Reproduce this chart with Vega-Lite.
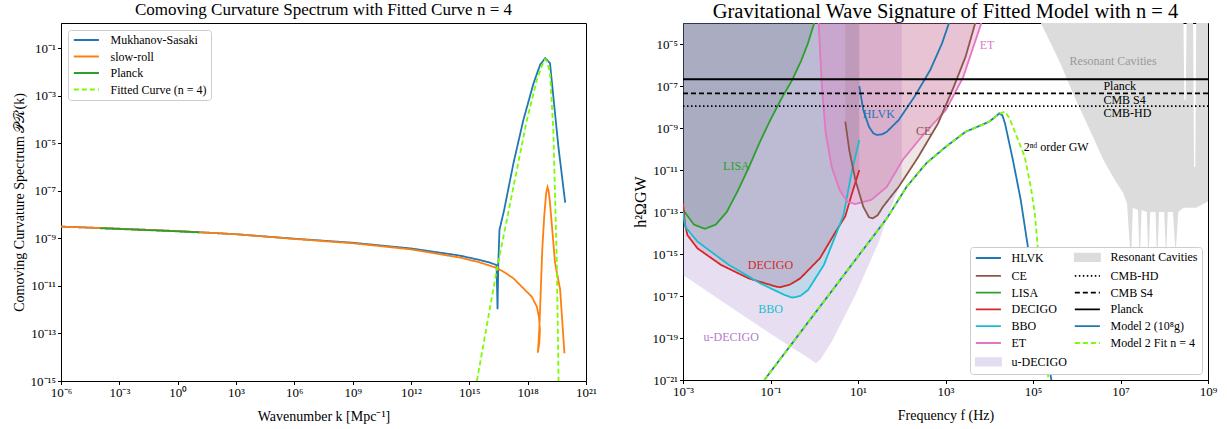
{
"$schema": "https://vega.github.io/schema/vega-lite/v6.json",
"padding": {"left": 11, "right": 10, "top": 0, "bottom": 2},
"spacing": 34,
"config": {
 "font": "Liberation Serif",
 "view": {"stroke": "#000000", "strokeWidth": 1},
 "axis": {"domainColor": "#000000", "tickColor": "#000000", "labelColor": "#000000", "titleColor": "#000000", "grid": false, "labelFont": "Liberation Serif", "titleFont": "Liberation Serif", "labelFontSize": 13, "titleFontSize": 14, "titleFontWeight": "normal", "tickSize": 3.5, "labelPadding": 2, "labelFlush": false},
 "axisX": {"titlePadding": 10},
 "title": {"font": "Liberation Serif", "fontWeight": "normal", "color": "#000000", "frame": "group", "anchor": "middle"},
 "legend": {"labelFont": "Liberation Serif", "labelFontSize": 12, "labelColor": "#000000"}
},
"datasets": {
 "left": [
  {"s":"Mukhanov-Sasaki","k":1e-6,"P":3.16e-9,"i":0},
  {"s":"Mukhanov-Sasaki","k":1e-3,"P":2.57e-9,"i":1},
  {"s":"Mukhanov-Sasaki","k":1,"P":2.04e-9,"i":2},
  {"s":"Mukhanov-Sasaki","k":1e3,"P":1.51e-9,"i":3},
  {"s":"Mukhanov-Sasaki","k":1e6,"P":9.77e-10,"i":4},
  {"s":"Mukhanov-Sasaki","k":1e9,"P":6.61e-10,"i":5},
  {"s":"Mukhanov-Sasaki","k":1e12,"P":3.8e-10,"i":6},
  {"s":"Mukhanov-Sasaki","k":3.16e14,"P":1.91e-10,"i":7},
  {"s":"Mukhanov-Sasaki","k":3.16e15,"P":1.26e-10,"i":8},
  {"s":"Mukhanov-Sasaki","k":1e16,"P":1e-10,"i":9},
  {"s":"Mukhanov-Sasaki","k":2.51e16,"P":7.59e-11,"i":10},
  {"s":"Mukhanov-Sasaki","k":2.82e16,"P":1.05e-12,"i":11},
  {"s":"Mukhanov-Sasaki","k":3.09e16,"P":9.12e-11,"i":12},
  {"s":"Mukhanov-Sasaki","k":3.55e16,"P":2.29e-9,"i":13},
  {"s":"Mukhanov-Sasaki","k":4.68e16,"P":6.03e-9,"i":14},
  {"s":"Mukhanov-Sasaki","k":6.17e16,"P":1.58e-8,"i":15},
  {"s":"Mukhanov-Sasaki","k":1.86e17,"P":1.48e-6,"i":16},
  {"s":"Mukhanov-Sasaki","k":6.03e17,"P":9.77e-5,"i":17},
  {"s":"Mukhanov-Sasaki","k":2e18,"P":3.39e-3,"i":18},
  {"s":"Mukhanov-Sasaki","k":4.37e18,"P":2.04e-2,"i":19},
  {"s":"Mukhanov-Sasaki","k":7.94e18,"P":3.89e-2,"i":20},
  {"s":"Mukhanov-Sasaki","k":1.41e19,"P":2.4e-2,"i":21},
  {"s":"Mukhanov-Sasaki","k":2.09e19,"P":9.33e-4,"i":22},
  {"s":"Mukhanov-Sasaki","k":3.8e19,"P":7.41e-6,"i":23},
  {"s":"Mukhanov-Sasaki","k":8.51e19,"P":3.24e-8,"i":24},
  {"s":"slow-roll","k":1e-6,"P":3.16e-9,"i":0},
  {"s":"slow-roll","k":1e-3,"P":2.57e-9,"i":1},
  {"s":"slow-roll","k":1,"P":2.04e-9,"i":2},
  {"s":"slow-roll","k":1e3,"P":1.51e-9,"i":3},
  {"s":"slow-roll","k":1e6,"P":9.55e-10,"i":4},
  {"s":"slow-roll","k":1e9,"P":6.31e-10,"i":5},
  {"s":"slow-roll","k":1e12,"P":3.47e-10,"i":6},
  {"s":"slow-roll","k":3.16e14,"P":1.58e-10,"i":7},
  {"s":"slow-roll","k":3.16e15,"P":1e-10,"i":8},
  {"s":"slow-roll","k":1e16,"P":7.41e-11,"i":9},
  {"s":"slow-roll","k":2.51e16,"P":5.75e-11,"i":10},
  {"s":"slow-roll","k":6.31e16,"P":3.8e-11,"i":11},
  {"s":"slow-roll","k":1.86e17,"P":2.09e-11,"i":12},
  {"s":"slow-roll","k":6.03e17,"P":7.94e-12,"i":13},
  {"s":"slow-roll","k":1.62e18,"P":3.55e-12,"i":14},
  {"s":"slow-roll","k":2.95e18,"P":1.35e-12,"i":15},
  {"s":"slow-roll","k":3.8e18,"P":5.01e-13,"i":16},
  {"s":"slow-roll","k":4.27e18,"P":1.41e-13,"i":17},
  {"s":"slow-roll","k":3.98e18,"P":3.98e-14,"i":18},
  {"s":"slow-roll","k":3.31e18,"P":1.55e-14,"i":19},
  {"s":"slow-roll","k":3.55e18,"P":3.16e-14,"i":20},
  {"s":"slow-roll","k":3.98e18,"P":1.58e-13,"i":21},
  {"s":"slow-roll","k":4.57e18,"P":3.16e-12,"i":22},
  {"s":"slow-roll","k":5.62e18,"P":3.16e-10,"i":23},
  {"s":"slow-roll","k":7.08e18,"P":8.32e-9,"i":24},
  {"s":"slow-roll","k":8.91e18,"P":7.94e-8,"i":25},
  {"s":"slow-roll","k":1.05e19,"P":1.45e-7,"i":26},
  {"s":"slow-roll","k":1.2e19,"P":1e-7,"i":27},
  {"s":"slow-roll","k":1.41e19,"P":3.02e-8,"i":28},
  {"s":"slow-roll","k":2.57e19,"P":9.12e-11,"i":29},
  {"s":"slow-roll","k":4.68e19,"P":7.08e-12,"i":30},
  {"s":"slow-roll","k":7.76e19,"P":1.48e-14,"i":31},
  {"s":"Planck","k":1e-4,"P":2.69e-9,"i":0},
  {"s":"Planck","k":3.16e-2,"P":2.24e-9,"i":1},
  {"s":"Planck","k":12.6,"P":1.82e-9,"i":2},
  {"s":"Fitted Curve (n = 4)","k":2.45e15,"P":1e-15,"i":0},
  {"s":"Fitted Curve (n = 4)","k":2.57e16,"P":4.68e-11,"i":1},
  {"s":"Fitted Curve (n = 4)","k":1.86e17,"P":1.51e-7,"i":2},
  {"s":"Fitted Curve (n = 4)","k":9.12e17,"P":9.77e-5,"i":3},
  {"s":"Fitted Curve (n = 4)","k":2.95e18,"P":4.68e-3,"i":4},
  {"s":"Fitted Curve (n = 4)","k":5.62e18,"P":2e-2,"i":5},
  {"s":"Fitted Curve (n = 4)","k":7.94e18,"P":3.47e-2,"i":6},
  {"s":"Fitted Curve (n = 4)","k":1e19,"P":2.82e-2,"i":7},
  {"s":"Fitted Curve (n = 4)","k":1.41e19,"P":9.12e-3,"i":8},
  {"s":"Fitted Curve (n = 4)","k":2.09e19,"P":3.72e-5,"i":9},
  {"s":"Fitted Curve (n = 4)","k":3.16e19,"P":9.12e-11,"i":10},
  {"s":"Fitted Curve (n = 4)","k":3.89e19,"P":1e-15,"i":11}
 ],
 "fills": [
  {"d":"u-DECIGO","f":1e-3,"o":1e-16},
  {"d":"u-DECIGO","f":1e-2,"o":3.98e-18},
  {"d":"u-DECIGO","f":0.1,"o":1.58e-19},
  {"d":"u-DECIGO","f":0.794,"o":1e-20},
  {"d":"u-DECIGO","f":1.1,"o":6.31e-21},
  {"d":"u-DECIGO","f":1.41,"o":1e-20},
  {"d":"u-DECIGO","f":2.51,"o":6.61e-20},
  {"d":"u-DECIGO","f":8.71,"o":1.12e-17},
  {"d":"u-DECIGO","f":30.2,"o":3.89e-15},
  {"d":"u-DECIGO","f":45.7,"o":5.01e-14},
  {"d":"u-DECIGO","f":100,"o":3.16e-12},
  {"d":"BBO","f":1e-3,"o":1e-13},
  {"d":"BBO","f":1.12e-3,"o":2e-14},
  {"d":"BBO","f":2.14e-3,"o":3.89e-15},
  {"d":"BBO","f":1.12e-2,"o":3.02e-16},
  {"d":"BBO","f":5.89e-2,"o":3.98e-17},
  {"d":"BBO","f":0.209,"o":1.12e-17},
  {"d":"BBO","f":0.316,"o":8.32e-18},
  {"d":"BBO","f":0.479,"o":1e-17},
  {"d":"BBO","f":0.724,"o":1.95e-17},
  {"d":"BBO","f":1.66,"o":3.02e-16},
  {"d":"BBO","f":3.09,"o":7.94e-15},
  {"d":"BBO","f":4.68,"o":7.24e-14},
  {"d":"BBO","f":7.08,"o":6.92e-12},
  {"d":"BBO","f":10.7,"o":2.69e-10},
  {"d":"DECIGO","f":1e-3,"o":2.51e-13},
  {"d":"DECIGO","f":1.12e-3,"o":2.51e-14},
  {"d":"DECIGO","f":1.26e-3,"o":7.94e-15},
  {"d":"DECIGO","f":2.14e-3,"o":1.86e-15},
  {"d":"DECIGO","f":7.41e-3,"o":3.02e-16},
  {"d":"DECIGO","f":3.16e-2,"o":6.92e-17},
  {"d":"DECIGO","f":0.138,"o":2.75e-17},
  {"d":"DECIGO","f":0.17,"o":2.63e-17},
  {"d":"DECIGO","f":0.282,"o":3.55e-17},
  {"d":"DECIGO","f":0.479,"o":6.92e-17},
  {"d":"DECIGO","f":1.35,"o":6.31e-16},
  {"d":"DECIGO","f":3.09,"o":1.15e-14},
  {"d":"DECIGO","f":5.13,"o":6.31e-14},
  {"d":"DECIGO","f":7.08,"o":6.31e-13},
  {"d":"DECIGO","f":10.7,"o":1e-11},
  {"d":"LISA","f":1e-3,"o":1.26e-13},
  {"d":"LISA","f":1.78e-3,"o":2.51e-14},
  {"d":"LISA","f":3.16e-3,"o":1.58e-14},
  {"d":"LISA","f":5.62e-3,"o":2.51e-14},
  {"d":"LISA","f":1e-2,"o":1e-13},
  {"d":"LISA","f":1.78e-2,"o":1e-12},
  {"d":"LISA","f":3.16e-2,"o":1.26e-11},
  {"d":"LISA","f":5.62e-2,"o":2e-10},
  {"d":"LISA","f":0.1,"o":2.51e-9},
  {"d":"LISA","f":0.178,"o":2.51e-8},
  {"d":"LISA","f":0.316,"o":2e-7},
  {"d":"LISA","f":0.501,"o":1.58e-6},
  {"d":"LISA","f":0.708,"o":1e-5},
  {"d":"LISA","f":1.0,"o":1e-4},
  {"d":"ET","f":1.26,"o":1e-4},
  {"d":"ET","f":1.48,"o":1.38e-7},
  {"d":"ET","f":1.82,"o":5.75e-10},
  {"d":"ET","f":2.51,"o":1.38e-11},
  {"d":"ET","f":3.8,"o":1.12e-12},
  {"d":"ET","f":5.75,"o":3.02e-13},
  {"d":"ET","f":8.71,"o":2.4e-13},
  {"d":"ET","f":20,"o":3.72e-13},
  {"d":"ET","f":45.7,"o":1.58e-12},
  {"d":"ET","f":105,"o":3.02e-11},
  {"d":"ET","f":316,"o":5.01e-10},
  {"d":"ET","f":1023,"o":7.24e-9},
  {"d":"ET","f":2512,"o":2.51e-7},
  {"d":"ET","f":6607,"o":1e-4},
  {"d":"CE","f":5.13,"o":2e-9},
  {"d":"CE","f":6.31,"o":8.91e-11},
  {"d":"CE","f":8.71,"o":3.31e-12},
  {"d":"CE","f":13.2,"o":1.78e-13},
  {"d":"CE","f":17.8,"o":5.62e-14},
  {"d":"CE","f":21.9,"o":5.01e-14},
  {"d":"CE","f":28.2,"o":7.08e-14},
  {"d":"CE","f":37.2,"o":1.78e-13},
  {"d":"CE","f":85.1,"o":1.58e-12},
  {"d":"CE","f":240,"o":4.27e-11},
  {"d":"CE","f":676,"o":1.66e-9},
  {"d":"CE","f":1549,"o":9.33e-8},
  {"d":"CE","f":2884,"o":2.51e-6},
  {"d":"CE","f":4786,"o":1e-4}
 ],
 "res": [
  {"f":1.51e5,"lo":1e-4,"hi":1e-4},
  {"f":3.98e5,"lo":1.58e-6,"hi":1e-4},
  {"f":9.55e5,"lo":2.14e-8,"hi":1e-4},
  {"f":2e6,"lo":7.94e-10,"hi":1e-4},
  {"f":4.07e6,"lo":3.02e-11,"hi":1e-4},
  {"f":7.08e6,"lo":3.98e-12,"hi":1e-4},
  {"f":1.15e7,"lo":7.94e-13,"hi":1e-4},
  {"f":1.41e7,"lo":2.51e-13,"hi":1e-4},
  {"f":1.74e7,"lo":3.16e-16,"hi":1e-4},
  {"f":1.91e7,"lo":1.58e-13,"hi":1e-4},
  {"f":2.51e7,"lo":1.26e-13,"hi":1e-4},
  {"f":2.75e7,"lo":3.16e-16,"hi":1e-4},
  {"f":3.02e7,"lo":1.26e-13,"hi":1e-4},
  {"f":3.98e7,"lo":1e-13,"hi":1e-4},
  {"f":4.37e7,"lo":5.01e-16,"hi":1e-4},
  {"f":4.79e7,"lo":1e-13,"hi":1e-4},
  {"f":6.31e7,"lo":1e-13,"hi":1e-4},
  {"f":6.92e7,"lo":3.16e-16,"hi":1e-4},
  {"f":7.59e7,"lo":1e-13,"hi":1e-4},
  {"f":1e8,"lo":1e-13,"hi":1e-4},
  {"f":1.1e8,"lo":6.31e-16,"hi":1e-4},
  {"f":1.2e8,"lo":1e-13,"hi":1e-4},
  {"f":1.58e8,"lo":1e-13,"hi":1e-4},
  {"f":1.82e8,"lo":1e-15,"hi":1e-4},
  {"f":2.09e8,"lo":1e-13,"hi":1e-4},
  {"f":2.75e8,"lo":1.58e-13,"hi":1e-4},
  {"f":2.88e8,"lo":1.58e-13,"hi":2.14e-8},
  {"f":3.09e8,"lo":1.58e-13,"hi":2.14e-8},
  {"f":3.24e8,"lo":1.58e-13,"hi":1e-4},
  {"f":4.57e8,"lo":1.58e-13,"hi":1e-4},
  {"f":4.79e8,"lo":1.58e-13,"hi":1.38e-11},
  {"f":5.13e8,"lo":1.58e-13,"hi":1.38e-11},
  {"f":5.37e8,"lo":1.58e-13,"hi":1e-4},
  {"f":1e9,"lo":3.16e-13,"hi":1e-4}
 ],
 "lines": [
  {"s":"LISA","f":1e-3,"o":1.26e-13},{"s":"LISA","f":1.78e-3,"o":2.51e-14},{"s":"LISA","f":3.16e-3,"o":1.58e-14},{"s":"LISA","f":5.62e-3,"o":2.51e-14},{"s":"LISA","f":1e-2,"o":1e-13},{"s":"LISA","f":1.78e-2,"o":1e-12},{"s":"LISA","f":3.16e-2,"o":1.26e-11},{"s":"LISA","f":5.62e-2,"o":2e-10},{"s":"LISA","f":0.1,"o":2.51e-9},{"s":"LISA","f":0.178,"o":2.51e-8},{"s":"LISA","f":0.316,"o":2e-7},{"s":"LISA","f":0.501,"o":1.58e-6},{"s":"LISA","f":0.708,"o":1e-5},{"s":"LISA","f":1.0,"o":1e-4},
  {"s":"DECIGO","f":1e-3,"o":2.51e-13},{"s":"DECIGO","f":1.12e-3,"o":2.51e-14},{"s":"DECIGO","f":1.26e-3,"o":7.94e-15},{"s":"DECIGO","f":2.14e-3,"o":1.86e-15},{"s":"DECIGO","f":7.41e-3,"o":3.02e-16},{"s":"DECIGO","f":3.16e-2,"o":6.92e-17},{"s":"DECIGO","f":0.138,"o":2.75e-17},{"s":"DECIGO","f":0.17,"o":2.63e-17},{"s":"DECIGO","f":0.282,"o":3.55e-17},{"s":"DECIGO","f":0.479,"o":6.92e-17},{"s":"DECIGO","f":1.35,"o":6.31e-16},{"s":"DECIGO","f":3.09,"o":1.15e-14},{"s":"DECIGO","f":5.13,"o":6.31e-14},{"s":"DECIGO","f":7.08,"o":6.31e-13},{"s":"DECIGO","f":10.7,"o":1e-11},
  {"s":"BBO","f":1e-3,"o":1e-13},{"s":"BBO","f":1.12e-3,"o":2e-14},{"s":"BBO","f":2.14e-3,"o":3.89e-15},{"s":"BBO","f":1.12e-2,"o":3.02e-16},{"s":"BBO","f":5.89e-2,"o":3.98e-17},{"s":"BBO","f":0.209,"o":1.12e-17},{"s":"BBO","f":0.316,"o":8.32e-18},{"s":"BBO","f":0.479,"o":1e-17},{"s":"BBO","f":0.724,"o":1.95e-17},{"s":"BBO","f":1.66,"o":3.02e-16},{"s":"BBO","f":3.09,"o":7.94e-15},{"s":"BBO","f":4.68,"o":7.24e-14},{"s":"BBO","f":7.08,"o":6.92e-12},{"s":"BBO","f":10.7,"o":2.69e-10},
  {"s":"ET","f":1.26,"o":1e-4},{"s":"ET","f":1.48,"o":1.38e-7},{"s":"ET","f":1.82,"o":5.75e-10},{"s":"ET","f":2.51,"o":1.38e-11},{"s":"ET","f":3.8,"o":1.12e-12},{"s":"ET","f":5.75,"o":3.02e-13},{"s":"ET","f":8.71,"o":2.4e-13},{"s":"ET","f":20,"o":3.72e-13},{"s":"ET","f":45.7,"o":1.58e-12},{"s":"ET","f":105,"o":3.02e-11},{"s":"ET","f":316,"o":5.01e-10},{"s":"ET","f":1023,"o":7.24e-9},{"s":"ET","f":2512,"o":2.51e-7},{"s":"ET","f":6607,"o":1e-4},
  {"s":"CE","f":5.13,"o":2e-9},{"s":"CE","f":6.31,"o":8.91e-11},{"s":"CE","f":8.71,"o":3.31e-12},{"s":"CE","f":13.2,"o":1.78e-13},{"s":"CE","f":17.8,"o":5.62e-14},{"s":"CE","f":21.9,"o":5.01e-14},{"s":"CE","f":28.2,"o":7.08e-14},{"s":"CE","f":37.2,"o":1.78e-13},{"s":"CE","f":85.1,"o":1.58e-12},{"s":"CE","f":240,"o":4.27e-11},{"s":"CE","f":676,"o":1.66e-9},{"s":"CE","f":1549,"o":9.33e-8},{"s":"CE","f":2884,"o":2.51e-6},{"s":"CE","f":4786,"o":1e-4},
  {"s":"HLVK","f":10.7,"o":1e-7},{"s":"HLVK","f":13.2,"o":7.24e-9},{"s":"HLVK","f":17.8,"o":1.15e-9},{"s":"HLVK","f":22.4,"o":5.62e-10},{"s":"HLVK","f":26.9,"o":4.68e-10},{"s":"HLVK","f":35.5,"o":5.01e-10},{"s":"HLVK","f":45.7,"o":6.61e-10},{"s":"HLVK","f":85.1,"o":2.4e-9},{"s":"HLVK","f":195,"o":3.09e-8},{"s":"HLVK","f":447,"o":5.75e-7},{"s":"HLVK","f":832,"o":1.07e-5},{"s":"HLVK","f":1202,"o":1e-4},
  {"s":"Planck","f":1e-3,"o":2.1e-7},{"s":"Planck","f":1e9,"o":2.1e-7},
  {"s":"CMB S4","f":1e-3,"o":4.5e-8},{"s":"CMB S4","f":1e9,"o":4.5e-8},
  {"s":"CMB-HD","f":1e-3,"o":1.1e-8},{"s":"CMB-HD","f":1e9,"o":1.1e-8},
  {"s":"Model 2 (10⁸g)","f":7.24e-2,"o":1e-21},{"s":"Model 2 (10⁸g)","f":45.7,"o":5.01e-14},{"s":"Model 2 (10⁸g)","f":129,"o":1.58e-12},{"s":"Model 2 (10⁸g)","f":363,"o":2.09e-11},{"s":"Model 2 (10⁸g)","f":1023,"o":1.29e-10},{"s":"Model 2 (10⁸g)","f":2884,"o":6.61e-10},{"s":"Model 2 (10⁸g)","f":6607,"o":1.38e-9},{"s":"Model 2 (10⁸g)","f":1e4,"o":2e-9},{"s":"Model 2 (10⁸g)","f":1.41e4,"o":3.55e-9},{"s":"Model 2 (10⁸g)","f":1.7e4,"o":5.01e-9},{"s":"Model 2 (10⁸g)","f":2e4,"o":3.98e-9},{"s":"Model 2 (10⁸g)","f":2.29e4,"o":1.66e-9},{"s":"Model 2 (10⁸g)","f":3.47e4,"o":3.02e-11},{"s":"Model 2 (10⁸g)","f":5.25e4,"o":3.72e-13},{"s":"Model 2 (10⁸g)","f":7.94e4,"o":1.29e-15},{"s":"Model 2 (10⁸g)","f":1.2e5,"o":1.62e-17},{"s":"Model 2 (10⁸g)","f":1.82e5,"o":1.38e-19},{"s":"Model 2 (10⁸g)","f":2.63e5,"o":1e-21},
  {"s":"Model 2 Fit n = 4","f":7.24e-2,"o":1e-21},{"s":"Model 2 Fit n = 4","f":45.7,"o":5.01e-14},{"s":"Model 2 Fit n = 4","f":129,"o":1.58e-12},{"s":"Model 2 Fit n = 4","f":363,"o":2.09e-11},{"s":"Model 2 Fit n = 4","f":1023,"o":1.29e-10},{"s":"Model 2 Fit n = 4","f":2884,"o":6.61e-10},{"s":"Model 2 Fit n = 4","f":6607,"o":1.38e-9},{"s":"Model 2 Fit n = 4","f":1e4,"o":2e-9},{"s":"Model 2 Fit n = 4","f":1.41e4,"o":3.55e-9},{"s":"Model 2 Fit n = 4","f":1.78e4,"o":5.01e-9},{"s":"Model 2 Fit n = 4","f":2.29e4,"o":6.03e-9},{"s":"Model 2 Fit n = 4","f":2.82e4,"o":3.16e-9},{"s":"Model 2 Fit n = 4","f":3.47e4,"o":1.15e-9},{"s":"Model 2 Fit n = 4","f":6.46e4,"o":4.27e-11},{"s":"Model 2 Fit n = 4","f":8.91e4,"o":1.58e-12},{"s":"Model 2 Fit n = 4","f":1.1e5,"o":8.71e-14},{"s":"Model 2 Fit n = 4","f":1.35e5,"o":6.31e-16},{"s":"Model 2 Fit n = 4","f":1.66e5,"o":2.57e-18},{"s":"Model 2 Fit n = 4","f":2.04e5,"o":1.55e-20},{"s":"Model 2 Fit n = 4","f":2.24e5,"o":1e-21}
 ],
 "labels": [
  {"t":"LISA","f":0.0166,"o":1.62e-11},
  {"t":"HLVK","f":29.9,"o":4.68e-9},
  {"t":"CE","f":316,"o":7.24e-10},
  {"t":"ET","f":8913,"o":8.91e-6},
  {"t":"Resonant Cavities","f":6.76e6,"o":1.55e-6},
  {"t":"Planck","f":4.07e6,"o":1e-7},
  {"t":"CMB S4","f":4.07e6,"o":2.14e-8},
  {"t":"CMB-HD","f":4.07e6,"o":5.01e-9},
  {"t":"2ⁿᵈ order GW","f":6.17e4,"o":1.29e-10},
  {"t":"DECIGO","f":0.1,"o":3.02e-16},
  {"t":"BBO","f":0.1,"o":2.4e-18},
  {"t":"u-DECIGO","f":0.0126,"o":1.15e-19}
 ]
},
"resolve": {"scale": {"color": "independent", "strokeDash": "independent"}, "legend": {"color": "independent", "strokeDash": "independent"}},
"hconcat": [
 {
  "width": 525, "height": 358,
  "title": {"text": "Comoving Curvature Spectrum  with Fitted Curve n = 4", "fontSize": 17, "offset": 4},
  "data": {"name": "left"},
  "encoding": {
   "x": {"field": "k", "type": "quantitative", "scale": {"type": "log", "domain": [1e-6, 1e21], "nice": false}, "axis": {"title": "Wavenumber k [Mpc⁻¹]", "values": [1e-6,1e-3,1,1e3,1e6,1e9,1e12,1e15,1e18,1e21], "labelExpr": "'10' + replace(replace(replace(replace(replace(replace(replace(replace(replace(replace(replace(toString(round(log(datum.value)/LN10)), regexp('-','g'), '⁻'), regexp('0','g'), '⁰'), regexp('1','g'), '¹'), regexp('2','g'), '²'), regexp('3','g'), '³'), regexp('4','g'), '⁴'), regexp('5','g'), '⁵'), regexp('6','g'), '⁶'), regexp('7','g'), '⁷'), regexp('8','g'), '⁸'), regexp('9','g'), '⁹')"}},
   "y": {"field": "P", "type": "quantitative", "scale": {"type": "log", "domain": [1e-15, 1.175], "nice": false}, "axis": {"title": "Comoving Curvature Spectrum 𝒫ℛ(k)", "values": [1e-15,1e-13,1e-11,1e-9,1e-7,1e-5,1e-3,1e-1], "labelExpr": "'10' + replace(replace(replace(replace(replace(replace(replace(replace(replace(replace(replace(toString(round(log(datum.value)/LN10)), regexp('-','g'), '⁻'), regexp('0','g'), '⁰'), regexp('1','g'), '¹'), regexp('2','g'), '²'), regexp('3','g'), '³'), regexp('4','g'), '⁴'), regexp('5','g'), '⁵'), regexp('6','g'), '⁶'), regexp('7','g'), '⁷'), regexp('8','g'), '⁸'), regexp('9','g'), '⁹')"}},
   "color": {"field": "s", "type": "nominal", "scale": {"domain": ["Mukhanov-Sasaki","slow-roll","Planck","Fitted Curve (n = 4)"], "range": ["#1f77b4","#ff7f0e","#2ca02c","#7cfc00"]}, "legend": {"title": null, "orient": "top-left", "offset": 7, "symbolType": "M-1,0H5", "symbolSize": 70, "symbolStrokeWidth": 1.8, "fillColor": "#ffffff", "strokeColor": "#cccccc", "padding": 4, "cornerRadius": 3, "rowPadding": 4.5, "labelOffset": 26.5}},
   "strokeDash": {"field": "s", "type": "nominal", "scale": {"domain": ["Mukhanov-Sasaki","slow-roll","Planck","Fitted Curve (n = 4)"], "range": [[1,0],[1,0],[1,0],[5,3]]}, "legend": {"title": null, "orient": "top-left", "offset": 7, "symbolType": "M-1,0H5", "symbolSize": 70, "symbolStrokeWidth": 1.8, "fillColor": "#ffffff", "strokeColor": "#cccccc", "padding": 4, "cornerRadius": 3, "rowPadding": 4.5, "labelOffset": 26.5}},
   "order": {"field": "i", "type": "quantitative"}
  },
  "layer": [
   {"transform": [{"filter": "datum.s == 'Mukhanov-Sasaki'"}], "mark": {"type": "line", "clip": true, "strokeWidth": 1.8}},
   {"transform": [{"filter": "datum.s == 'slow-roll'"}], "mark": {"type": "line", "clip": true, "strokeWidth": 1.8}},
   {"transform": [{"filter": "datum.s == 'Planck'"}], "mark": {"type": "line", "clip": true, "strokeWidth": 1.8}},
   {"transform": [{"filter": "datum.s == 'Fitted Curve (n = 4)'"}], "mark": {"type": "line", "clip": true, "strokeWidth": 1.8}}
  ]
 },
 {
  "width": 525, "height": 357,
  "title": {"text": "Gravitational Wave Signature of Fitted Model with n = 4", "fontSize": 20.5, "offset": 1},
  "encoding": {
   "x": {"field": "f", "type": "quantitative", "scale": {"type": "log", "domain": [1e-3, 1e9], "nice": false}, "axis": {"title": "Frequency f (Hz)", "values": [1e-3,1e-1,10,1e3,1e5,1e7,1e9], "labelExpr": "'10' + replace(replace(replace(replace(replace(replace(replace(replace(replace(replace(replace(toString(round(log(datum.value)/LN10)), regexp('-','g'), '⁻'), regexp('0','g'), '⁰'), regexp('1','g'), '¹'), regexp('2','g'), '²'), regexp('3','g'), '³'), regexp('4','g'), '⁴'), regexp('5','g'), '⁵'), regexp('6','g'), '⁶'), regexp('7','g'), '⁷'), regexp('8','g'), '⁸'), regexp('9','g'), '⁹')"}},
   "y": {"field": "o", "type": "quantitative", "scale": {"type": "log", "domain": [1e-21, 1e-4], "nice": false}, "axis": {"title": "h²ΩGW", "titleFontSize": 16, "values": [1e-21,1e-19,1e-17,1e-15,1e-13,1e-11,1e-9,1e-7,1e-5], "labelExpr": "'10' + replace(replace(replace(replace(replace(replace(replace(replace(replace(replace(replace(toString(round(log(datum.value)/LN10)), regexp('-','g'), '⁻'), regexp('0','g'), '⁰'), regexp('1','g'), '¹'), regexp('2','g'), '²'), regexp('3','g'), '³'), regexp('4','g'), '⁴'), regexp('5','g'), '⁵'), regexp('6','g'), '⁶'), regexp('7','g'), '⁷'), regexp('8','g'), '⁸'), regexp('9','g'), '⁹')"}}
  },
  "layer": [
   {"data": {"name": "fills"}, "transform": [{"filter": "datum.d == 'u-DECIGO'"}], "mark": {"type": "area", "clip": true, "color": "#9467bd", "opacity": 0.22}, "encoding": {"y2": {"datum": 1e-4}}},
   {"data": {"name": "fills"}, "transform": [{"filter": "datum.d == 'BBO'"}], "mark": {"type": "area", "clip": true, "color": "#17becf", "opacity": 0.18}, "encoding": {"y2": {"datum": 1e-4}}},
   {"data": {"name": "fills"}, "transform": [{"filter": "datum.d == 'DECIGO'"}], "mark": {"type": "area", "clip": true, "color": "#a01c50", "opacity": 0.15}, "encoding": {"y2": {"datum": 1e-4}}},
   {"data": {"name": "fills"}, "transform": [{"filter": "datum.d == 'LISA'"}], "mark": {"type": "area", "clip": true, "color": "#3c5a5a", "opacity": 0.14}, "encoding": {"y2": {"datum": 1e-4}}},
   {"data": {"name": "fills"}, "transform": [{"filter": "datum.d == 'ET'"}], "mark": {"type": "area", "clip": true, "color": "#e377c2", "opacity": 0.3}, "encoding": {"y2": {"datum": 1e-4}}},
   {"data": {"name": "fills"}, "transform": [{"filter": "datum.d == 'CE'"}], "mark": {"type": "area", "clip": true, "color": "#8c564b", "opacity": 0.15}, "encoding": {"y2": {"datum": 1e-4}}},
   {"data": {"name": "res"}, "mark": {"type": "area", "clip": true, "color": "#dcdcdc"}, "encoding": {"y": {"field": "lo", "type": "quantitative"}, "y2": {"field": "hi"}}},
   {"data": {"name": "lines"}, "transform": [{"filter": "datum.s != 'Model 2 (10⁸g)' && datum.s != 'Model 2 Fit n = 4'"}], "mark": {"type": "line", "clip": true, "strokeWidth": 1.8},
    "encoding": {
     "color": {"field": "s", "type": "nominal", "scale": {"domain": ["HLVK","CE","LISA","DECIGO","BBO","ET","u-DECIGO","Resonant Cavities","CMB-HD","CMB S4","Planck","Model 2 (10⁸g)","Model 2 Fit n = 4"], "range": ["#1f77b4","#8c564b","#2ca02c","#d62728","#17becf","#e377c2","#e4dcf0","#dcdcdc","#000000","#000000","#000000","#1f77b4","#7cfc00"]}, "legend": {"title": null, "orient": "bottom-right", "offset": 6, "columns": 2, "columnPadding": 4, "symbolType": "M-1,0H5", "symbolSize": 70, "symbolStrokeWidth": 1.8, "fillColor": "#ffffff", "strokeColor": "#cccccc", "padding": 4, "cornerRadius": 3, "rowPadding": 4.8, "labelOffset": 25.5, "encode": {"symbols": {"update": {"shape": {"signal": "(datum.value == 'u-DECIGO' || datum.value == 'Resonant Cavities') ? 'M-1,-0.9H5V0.9H-1Z' : 'M-1,0H5'"}, "fill": {"signal": "datum.value == 'u-DECIGO' ? '#e4dcf0' : (datum.value == 'Resonant Cavities' ? '#dcdcdc' : 'transparent')"}, "fillOpacity": {"value": 1}}}}}},
     "strokeDash": {"field": "s", "type": "nominal", "scale": {"domain": ["HLVK","CE","LISA","DECIGO","BBO","ET","u-DECIGO","Resonant Cavities","CMB-HD","CMB S4","Planck","Model 2 (10⁸g)","Model 2 Fit n = 4"], "range": [[1,0],[1,0],[1,0],[1,0],[1,0],[1,0],[1,0],[1,0],[1.5,2.5],[5,3],[1,0],[1,0],[5,3]]}, "legend": {"title": null, "orient": "bottom-right", "offset": 6, "columns": 2, "columnPadding": 4, "symbolType": "M-1,0H5", "symbolSize": 70, "symbolStrokeWidth": 1.8, "fillColor": "#ffffff", "strokeColor": "#cccccc", "padding": 4, "cornerRadius": 3, "rowPadding": 4.8, "labelOffset": 25.5, "encode": {"symbols": {"update": {"shape": {"signal": "(datum.value == 'u-DECIGO' || datum.value == 'Resonant Cavities') ? 'M-1,-0.9H5V0.9H-1Z' : 'M-1,0H5'"}, "fill": {"signal": "datum.value == 'u-DECIGO' ? '#e4dcf0' : (datum.value == 'Resonant Cavities' ? '#dcdcdc' : 'transparent')"}, "fillOpacity": {"value": 1}}}}}}
    }},
   {"data": {"name": "lines"}, "transform": [{"filter": "datum.s == 'Model 2 (10⁸g)'"}], "mark": {"type": "line", "clip": true, "strokeWidth": 1.8},
    "encoding": {"color": {"field": "s", "type": "nominal"}, "strokeDash": {"field": "s", "type": "nominal"}}},
   {"data": {"name": "lines"}, "transform": [{"filter": "datum.s == 'Model 2 Fit n = 4'"}], "mark": {"type": "line", "clip": true, "strokeWidth": 1.8},
    "encoding": {"color": {"field": "s", "type": "nominal"}, "strokeDash": {"field": "s", "type": "nominal"}}},
   {"data": {"name": "labels"}, "transform": [{"filter": "datum.t == 'LISA'"}], "mark": {"type": "text", "color": "#2ca02c", "fontSize": 12}, "encoding": {"text": {"field": "t"}}},
   {"data": {"name": "labels"}, "transform": [{"filter": "datum.t == 'HLVK'"}], "mark": {"type": "text", "color": "#1f77b4", "fontSize": 12}, "encoding": {"text": {"field": "t"}}},
   {"data": {"name": "labels"}, "transform": [{"filter": "datum.t == 'CE'"}], "mark": {"type": "text", "color": "#8c564b", "fontSize": 12}, "encoding": {"text": {"field": "t"}}},
   {"data": {"name": "labels"}, "transform": [{"filter": "datum.t == 'ET'"}], "mark": {"type": "text", "color": "#e377c2", "fontSize": 12}, "encoding": {"text": {"field": "t"}}},
   {"data": {"name": "labels"}, "transform": [{"filter": "datum.t == 'DECIGO'"}], "mark": {"type": "text", "color": "#d62728", "fontSize": 12}, "encoding": {"text": {"field": "t"}}},
   {"data": {"name": "labels"}, "transform": [{"filter": "datum.t == 'BBO'"}], "mark": {"type": "text", "color": "#17becf", "fontSize": 12}, "encoding": {"text": {"field": "t"}}},
   {"data": {"name": "labels"}, "transform": [{"filter": "datum.t == 'u-DECIGO'"}], "mark": {"type": "text", "color": "#b07cc6", "fontSize": 12}, "encoding": {"text": {"field": "t"}}},
   {"data": {"name": "labels"}, "transform": [{"filter": "datum.t == 'Resonant Cavities'"}], "mark": {"type": "text", "color": "#999999", "fontSize": 12}, "encoding": {"text": {"field": "t"}}},
   {"data": {"name": "labels"}, "transform": [{"filter": "datum.t == 'Planck' || datum.t == 'CMB S4' || datum.t == 'CMB-HD' || datum.t == '2ⁿᵈ order GW'"}], "mark": {"type": "text", "color": "#000000", "fontSize": 12, "align": "left"}, "encoding": {"text": {"field": "t"}}}
  ]
 }
]
}
